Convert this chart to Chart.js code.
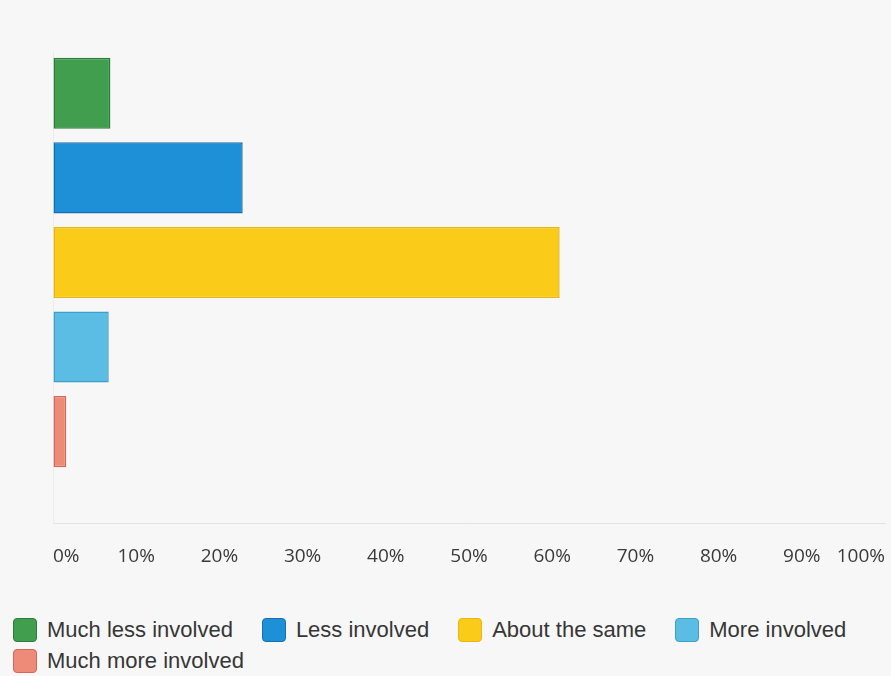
<!DOCTYPE html>
<html>
<head>
<meta charset="utf-8">
<script src="https://cdn.jsdelivr.net/npm/chart.js@4.4.1/dist/chart.umd.min.js"></script>
<style>
  html, body { margin: 0; padding: 0; background: #f7f7f7; }
  #wrap { position: relative; width: 891px; height: 676px; overflow: hidden; }
  #chart-box { position: absolute; left: 0; top: 0; width: 891px; height: 590px; }
  #legend {
    position: absolute; left: 13px; top: 617px; width: 876px;
    display: flex; flex-wrap: wrap; column-gap: 29px; row-gap: 5px;
    font-family: "Liberation Sans", Arial, sans-serif; font-size: 22px; color: #363636;
  }
  .item { display: flex; align-items: center; height: 26px; white-space: nowrap; }
  .swatch { width: 24px; height: 24px; border-radius: 4px; margin-right: 10px; box-sizing: border-box; border: 1px solid; }
</style>
</head>
<body>
<div id="wrap">
  <div id="chart-box"><canvas id="involvement-chart" width="891" height="590"></canvas></div>
  <div id="legend"></div>
</div>
<script>
// answer categories, top to bottom
const categories = ['Much less involved', 'Less involved', 'About the same', 'More involved', 'Much more involved'];
// share of respondents, percent
const shares = [6.9, 22.8, 60.9, 6.7, 1.6];
const xTicks = [0, 10, 20, 30, 40, 50, 60, 70, 80, 90, 100];

const fillColors = ['#409e4e', '#1e90d8', '#facb18', '#5bbce4', '#ee8a78'];
const edgeColors = ['#2e7d3b', '#176fb0', '#e8b60c', '#3f9fc8', '#d4685a'];

// legend below the chart
const legendEl = document.getElementById('legend');
categories.forEach((name, i) => {
  const item = document.createElement('div');
  item.className = 'item';
  const sw = document.createElement('span');
  sw.className = 'swatch';
  sw.style.background = fillColors[i];
  sw.style.borderColor = edgeColors[i];
  const label = document.createElement('span');
  label.textContent = name;
  item.appendChild(sw);
  item.appendChild(label);
  legendEl.appendChild(item);
});

const ctx = document.getElementById('involvement-chart').getContext('2d');
new Chart(ctx, {
  type: 'bar',
  data: {
    datasets: [{
      data: shares.map((v, i) => ({ x: v, y: i })),
      backgroundColor: fillColors,
      borderColor: edgeColors,
      borderWidth: 1.5,
      borderSkipped: false,
      barPercentage: 1,
      categoryPercentage: 0.84
    }]
  },
  options: {
    indexAxis: 'y',
    responsive: false,
    animation: false,
    layout: { padding: { left: 0, right: 6, top: 51, bottom: 0 } },
    plugins: {
      legend: { display: false },
      tooltip: { enabled: false }
    },
    scales: {
      x: {
        type: 'linear',
        min: 0,
        max: 100,
        afterBuildTicks: scale => { scale.ticks = xTicks.map(v => ({ value: v })); },
        afterFit: scale => { scale.height = 67; },
        // invisible tick marks push the labels down from the baseline
        grid: { display: true, drawOnChartArea: false, drawTicks: true, tickLength: 22, color: 'rgba(0,0,0,0)' },
        border: { display: true, color: '#e2e2e2', width: 1 },
        ticks: {
          align: 'inner',
          padding: 0,
          color: '#3a3a3a',
          font: { family: '"Open Sans", sans-serif', size: 19 },
          callback: v => v + '%'
        }
      },
      y: {
        type: 'linear',
        reverse: true,
        offset: false,
        min: -0.5,
        max: 5.08,
        afterBuildTicks: scale => { scale.ticks = categories.map((c, i) => ({ value: i })); },
        afterFit: scale => { scale.width = 53; },
        grid: { display: false, drawTicks: false, tickLength: 0 },
        border: { display: true, color: '#ececec', width: 1 },
        ticks: { display: false, padding: 0 }
      }
    }
  }
});
</script>
</body>
</html>
